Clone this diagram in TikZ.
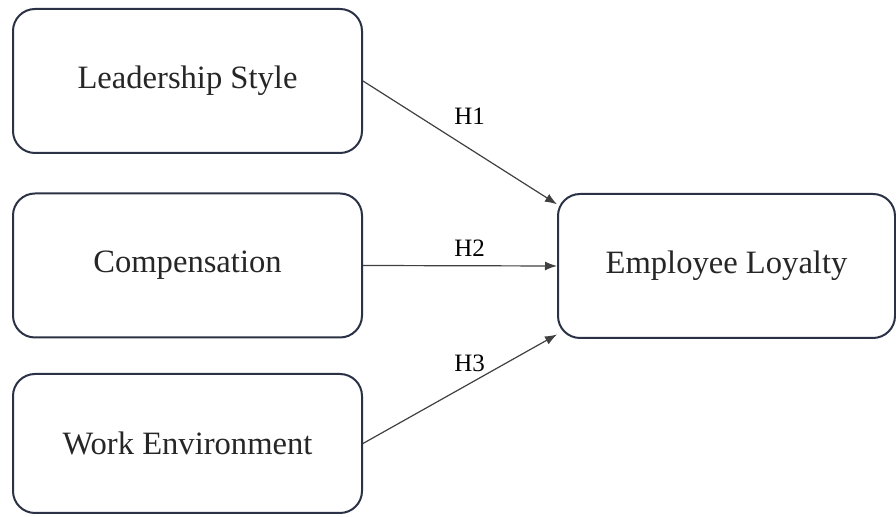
\documentclass[tikz,border=0pt]{standalone}
\usepackage{fontspec}
\setmainfont{Liberation Serif}
\usetikzlibrary{arrows.meta}

\definecolor{boxline}{HTML}{2B3245}
\definecolor{arrline}{HTML}{404040}

\begin{document}
\begin{tikzpicture}[x=0.5pt, y=-0.5pt,
	every node/.style={black},
	varbox/.style={draw=boxline, line width=1pt, rounded corners=11pt,
		minimum width=174.5pt, minimum height=72pt, inner sep=0pt,
		font=\fontsize{16.3}{19}\selectfont, text=black!85},
	hyp/.style={draw=arrline, line width=0.6pt, -{Latex[length=6pt,width=4.5pt]}},
	hlabel/.style={font=\fontsize{12.5}{14}\selectfont, inner sep=0pt}]
	\useasboundingbox (0,0) rectangle (896,517);
%	\coordinate (    ) at (x px, y px);
	\coordinate (c_ls) at (187.5, 81);
	\coordinate (c_cp) at (187.5, 265.5);
	\coordinate (c_we) at (187.5, 443.5);
	\coordinate (c_el) at (726.5, 266);

	\node[varbox] (ls) at (c_ls) {Leadership Style};
	\node[varbox] (cp) at (c_cp) {Compensation};
	\node[varbox, minimum height=69.5pt] (we) at (c_we) {Work Environment};
	\node[varbox, minimum width=168.5pt] (el) at (c_el) {Employee Loyalty};

	\draw[hyp] (ls.east) -- (el.160.7) node[hlabel, pos=0.55, above=12pt] (h1) {H1};
	\draw[hyp] (cp.east) -- (el.west) node[hlabel, pos=0.55, above=4.5pt] (h2) {H2};
	\draw[hyp] (we.east) -- (el.202.3) node[hlabel, pos=0.55, above=5.5pt] (h3) {H3};
\end{tikzpicture}
\end{document}
